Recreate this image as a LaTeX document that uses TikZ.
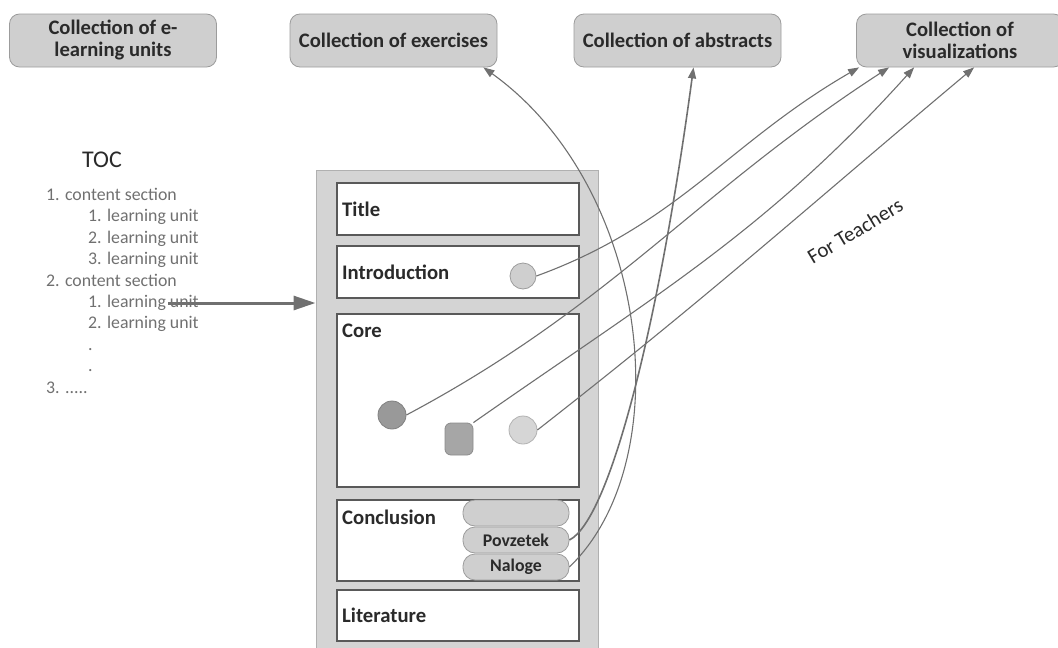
\documentclass[tikz,border=0pt]{standalone}
\usepackage{fontspec}
\setmainfont{Carlito}
\usetikzlibrary{arrows.meta}

\definecolor{riempi}{HTML}{CFCFCF}
\definecolor{bordo}{HTML}{9C9C9C}
\definecolor{colonna}{HTML}{D4D4D4}
\definecolor{scuro}{HTML}{595959}
\definecolor{freccia}{HTML}{707070}
\definecolor{testo}{HTML}{2A2A2A}

\tikzset{
  raccolta/.style={draw=bordo, fill=riempi, line width=0.8pt, rounded corners=10pt,
    minimum width=207pt, minimum height=53pt, align=center, text=testo,
    font=\bfseries\fontsize{20.6}{22}\selectfont},
  sezione/.style={draw=scuro, fill=white, line width=2pt, minimum width=242pt},
  etichetta/.style={text=testo, font=\bfseries\fontsize{20.7}{22}\selectfont, inner sep=0pt},
  pillola/.style={draw=bordo, fill=riempi, line width=0.8pt, rounded corners=12pt,
    minimum width=106pt, minimum height=26pt, text=testo,
    font=\bfseries\fontsize{17.8}{18}\selectfont},
  pallino/.style={circle, draw=bordo, line width=0.8pt, minimum size=#1},
  legame/.style={draw=freccia, line width=1.1pt, -{Triangle[length=11pt,width=8pt]}}
}

\begin{document}
\begin{tikzpicture}[x=1pt,y=1pt]
  \useasboundingbox (0,0) rectangle (1058,-648);

  % Le raccolte in alto
  \node[raccolta] (elearn) at (113,-40.5) {Collection of e-\\learning units};
  \node[raccolta] (exer) at (393.5,-40.5) {Collection of exercises};
  \node[raccolta] (abstr) at (677.5,-40.5) {Collection of abstracts};
  \node[raccolta] (vis) at (960,-40.5) {Collection of\\visualizations};

  % Indice (TOC)
  \node[text=testo, font=\fontsize{24}{26}\selectfont, anchor=west, inner sep=0pt] (toctit) at (82,-160) {TOC};
  \node[text=freccia, font=\fontsize{17.8}{21.4}\selectfont, align=left, anchor=north west,
    inner sep=0pt] (toc) at (46,-188) {%
    1. content section\\
    \hspace*{42pt}1. learning unit\\
    \hspace*{42pt}2. learning unit\\
    \hspace*{42pt}3. learning unit\\
    2. content section\\
    \hspace*{42pt}1. learning unit\\
    \hspace*{42pt}2. learning unit\\
    \hspace*{42pt}.\\
    \hspace*{42pt}.\\
    3. .....};

  % La colonna con le sezioni
  \node[draw=bordo!80, fill=colonna, line width=1pt, minimum width=282pt,
    minimum height=484pt] (col) at (457,-412) {};
  \node[sezione, minimum height=52pt] (titolo) at (458,-209) {};
  \node[sezione, minimum height=52pt] (intro) at (458,-272) {};
  \node[sezione, minimum height=173pt] (core) at (458,-400.5) {};
  \node[sezione, minimum height=81pt] (concl) at (458,-540.5) {};
  \node[sezione, minimum height=51pt] (lett) at (458,-615.5) {};

  \node[etichetta, anchor=west] (ltitolo) at ([xshift=6pt]titolo.west) {Title};
  \node[etichetta, anchor=west] (lintro) at ([xshift=6pt]intro.west) {Introduction};
  \node[etichetta, anchor=north west] (lcore) at ([xshift=6pt,yshift=-11pt]core.north west) {Core};
  \node[etichetta, anchor=north west] (lconcl) at ([xshift=6pt,yshift=-11pt]concl.north west) {Conclusion};
  \node[etichetta, anchor=west] (llett) at ([xshift=6pt]lett.west) {Literature};

  % Elementi dentro le sezioni
  \node[pallino=26pt, fill=riempi] (cintro) at (523,-276) {};
  \node[pallino=28pt, fill=black!40, draw=black!50] (cscuro) at (392,-415) {};
  \node[draw=black!45, fill=black!35, line width=0.8pt, rounded corners=6pt,
    minimum width=28pt, minimum height=32pt] (quadro) at (459,-439) {};
  \node[pallino=28pt, fill=black!16, draw=black!30] (cchiaro) at (523,-430) {};

  \node[pillola] (vuota) at (516,-513) {};
  \node[pillola] (povz) at (516,-540) {Povzetek};
  \node[pillola] (nal) at (516,-567) {Naloge};

  % Frecce
  \coordinate (partenza) at (168,-303);
  \draw[draw=freccia, line width=3pt, -{Triangle[length=22pt,width=14pt]}]
    (partenza) -- (col.west |- partenza);

  \draw[legame] (cintro.east) to[out=20,in=210] ([xshift=3pt]vis.south west);
  \draw[legame] (cscuro.east) to[out=28,in=213] ([xshift=33pt]vis.south west);
  \draw[legame] (quadro.north east) to[out=35,in=228] ([xshift=58pt]vis.south west);
  \draw[legame] (cchiaro.east) to[out=38,in=220] ([xshift=118pt]vis.south west);

  \draw[legame, line width=1.6pt] (povz.east) .. controls +(40,20) and +(-35,-260) ..
    ([xshift=16pt]abstr.south);
  \draw[legame] (nal.east) .. controls +(111,107) and +(167,-120) ..
    ([xshift=-14pt]exer.south east);

  \node[text=testo, font=\fontsize{21}{22}\selectfont, rotate=31] (teach) at (855,-231) {For Teachers};
\end{tikzpicture}
\end{document}
